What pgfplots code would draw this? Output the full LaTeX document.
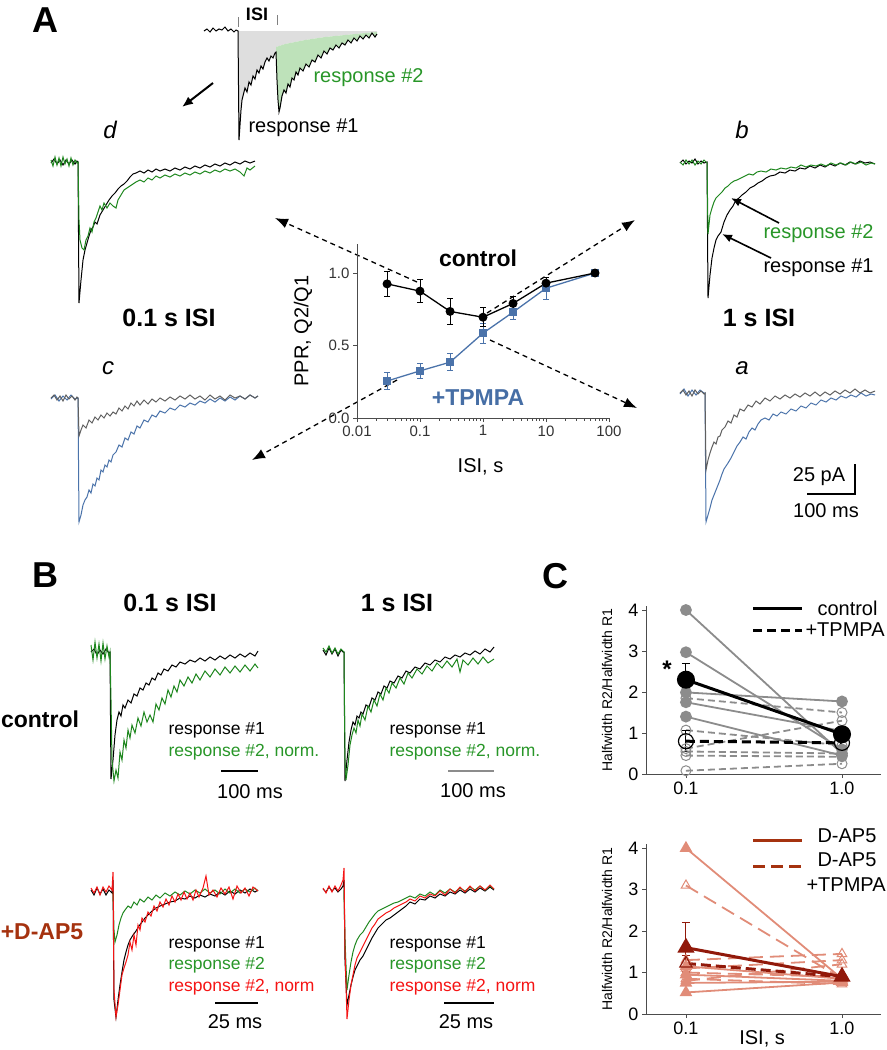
\documentclass[border=0pt]{standalone}
\usepackage{pgfplots}
\pgfplotsset{compat=1.18}
\usepackage{fontspec}
\setmainfont{Liberation Sans}
\usetikzlibrary{arrows.meta}
\newcommand{\fs}[1]{\fontsize{#1bp}{#1bp}\selectfont}
\definecolor{tgreen}{RGB}{30,135,30}
\definecolor{lgreen}{RGB}{40,150,40}
\definecolor{tblue}{RGB}{75,115,170}
\definecolor{tpblue}{RGB}{70,110,165}
\definecolor{tgray}{RGB}{95,95,95}
\definecolor{cgray}{RGB}{140,140,140}
\definecolor{salmon}{RGB}{225,140,120}
\definecolor{dbrown}{RGB}{145,25,10}
\definecolor{dap}{RGB}{165,50,15}
\definecolor{fillgray}{RGB}{222,222,222}
\definecolor{fillgreen}{RGB}{190,226,186}
\definecolor{tred}{RGB}{245,20,20}
\begin{document}
\begin{tikzpicture}
\path[use as bounding box] (0,0) rectangle (887bp,-1050bp);
% ---------------- overlay axis in pixel units (traces + annotations)
\begin{axis}[at={(0,0)}, anchor=north west, scale only axis, width=887bp, height=1050bp,
  xmin=0, xmax=887, ymin=0, ymax=1050, y dir=reverse, hide axis, clip=false, no markers]
% top example trace with areas
\addplot[fill=fillgray, draw=none] coordinates {(238,31)(239,140)(240,125)(241,110)(242,100)(243,96)(245,88)(247,92)(249,82)(251,85)(253,76)(255,79)(257,70)(259,73)(261,66)(263,69)(265,62)(267,58)(269,61)(271,56)(273,58)(275,53)(276,52)(276,47)(285,44)(295,42)(305,40)(315,38.5)(325,37)(340,35.5)(355,34)(365,33)(377,32)(377,31)} -- cycle;
\addplot[fill=fillgreen, draw=none] coordinates {(276,47)(285,44)(295,42)(305,40)(315,38.5)(325,37)(340,35.5)(355,34)(365,33)(377,32)(377,34)(375,37)(372,33)(369,38)(366,35)(363,39)(360,36)(357,41)(354,38)(351,43)(348,40)(345,45)(342,43)(339,48)(336,45)(333,50)(330,48)(327,54)(324,51)(321,58)(318,55)(315,62)(312,60)(309,67)(306,64)(303,71)(300,68)(298,75)(296,72)(294,80)(292,78)(290,87)(288,84)(286,93)(284,90)(282,96)(280,108)(279,112)(278,100)(277,80)(276,52)} -- cycle;
\addplot[black, line width=1bp] coordinates {(204,31)(207,29)(210,32)(213,28)(216,31)(219,29)(222,30)(225,27)(228,31)(231,29)(234,32)(236,30)(238,31)(239,140)(240,125)(241,110)(242,100)(243,96)(245,88)(247,92)(249,82)(251,85)(253,76)(255,79)(257,70)(259,73)(261,66)(263,69)(265,62)(267,58)(269,61)(271,56)(273,58)(275,53)(276,52)(277,80)(278,100)(279,112)(280,108)(282,96)(284,90)(286,93)(288,84)(290,87)(292,78)(294,80)(296,72)(298,75)(300,68)(303,71)(306,64)(309,67)(312,60)(315,62)(318,55)(321,58)(324,51)(327,54)(330,48)(333,50)(336,45)(339,48)(342,43)(345,45)(348,40)(351,43)(354,38)(357,41)(360,36)(363,39)(366,35)(369,38)(372,33)(375,37)(377,34)};
% d : 0.1 s ISI control
\addplot[black, line width=1bp] coordinates {(51,163)(54,159)(57,164)(60,160)(63,165)(66,160)(69,164)(72,160)(75,164)(77,161)(78,162)(79,303)(81,280)(83,260)(85,250)(87,243)(89,236)(91,230)(93,227)(95,222)(97,224)(100,215)(103,210)(106,205)(109,200)(112,196)(115,193)(118,189)(121,186)(124,184)(127,181)(130,177)(133,174)(136,173)(140,171)(144,173)(148,170)(152,172)(156,169)(160,171)(165,169)(170,171)(175,168)(180,170)(185,167)(190,169)(195,166)(200,168)(205,165)(210,167)(215,164)(220,166)(225,163)(230,165)(235,162)(240,164)(245,161)(250,163)(255,161)};
\addplot[tgreen, line width=1bp] coordinates {(51,160)(53,166)(55,157)(57,165)(59,158)(61,166)(63,157)(65,164)(67,159)(69,166)(71,158)(73,165)(75,160)(77,163)(78,162)(79,220)(80,240)(82,248)(84,250)(86,240)(88,236)(90,228)(92,232)(94,222)(96,218)(98,212)(100,206)(102,210)(104,203)(107,208)(110,203)(113,206)(116,208)(118,200)(121,195)(124,190)(127,188)(130,186)(133,184)(136,182)(140,180)(144,182)(148,178)(152,180)(156,176)(160,178)(165,175)(170,177)(175,174)(180,176)(185,173)(190,175)(195,172)(200,174)(205,171)(210,173)(215,170)(220,172)(225,169)(230,171)(235,169)(240,172)(244,176)(247,168)(250,170)(255,166)};
% b : 1 s ISI control
\addplot[black, line width=1bp] coordinates {(680,163)(683,160)(686,164)(689,161)(692,163)(695,159)(698,164)(701,161)(704,163)(707,162)(708,298)(710,275)(712,258)(714,248)(716,240)(718,236)(721,232)(724,222)(727,215)(730,210)(733,206)(736,200)(739,198)(742,195)(746,192)(750,188)(754,186)(758,183)(762,181)(766,178)(770,176)(775,175)(780,172)(785,173)(790,170)(795,171)(800,168)(805,169)(810,166)(815,168)(820,165)(825,167)(830,164)(835,166)(840,163)(845,165)(850,162)(855,164)(860,161)(865,163)(870,162)(875,164)};
\addplot[tgreen, line width=1bp] coordinates {(680,162)(683,165)(686,160)(689,164)(692,160)(695,165)(698,161)(701,164)(704,160)(707,163)(708,234)(710,215)(712,208)(714,202)(716,198)(719,195)(722,192)(725,188)(728,186)(731,183)(734,181)(737,180)(741,178)(745,176)(749,174)(753,175)(757,172)(761,171)(766,172)(771,169)(776,170)(781,168)(786,169)(791,167)(796,168)(801,165)(806,167)(811,165)(816,166)(821,164)(826,166)(831,163)(836,165)(841,163)(846,165)(851,162)(856,164)(861,162)(866,165)(871,163)(875,164)};
% c : 0.1 s ISI TPMPA
\addplot[tblue, line width=1bp] coordinates {(51,399)(55,395)(59,401)(63,396)(67,400)(71,395)(75,399)(78,398)(79,522)(81,515)(83,505)(85,500)(87,497)(89,490)(91,493)(93,484)(95,486)(97,478)(99,480)(101,470)(103,472)(105,465)(107,467)(109,460)(111,462)(113,455)(116,452)(119,445)(122,447)(125,438)(128,440)(131,432)(134,434)(137,426)(140,428)(144,420)(148,422)(152,415)(156,417)(160,411)(165,413)(170,408)(175,410)(180,405)(185,407)(190,403)(195,405)(200,401)(205,403)(210,399)(215,402)(220,398)(225,401)(230,397)(235,400)(240,396)(245,399)(250,395)(255,398)(258,396)};
\addplot[tgray, line width=1bp] coordinates {(51,398)(54,395)(57,400)(60,396)(63,401)(66,395)(69,399)(72,396)(75,400)(77,397)(78,398)(79,436)(81,430)(83,425)(86,428)(89,420)(92,423)(95,417)(98,420)(101,415)(104,418)(107,413)(110,416)(113,412)(116,414)(119,408)(122,411)(125,406)(128,409)(131,403)(134,406)(137,401)(140,405)(144,400)(148,404)(152,399)(156,402)(160,398)(165,401)(170,397)(175,400)(180,396)(185,399)(190,395)(195,399)(200,396)(205,400)(210,395)(215,399)(220,396)(225,400)(230,395)(235,398)(240,396)(245,399)(250,395)(255,398)(258,396)};
% a : 1 s ISI TPMPA
\addplot[tblue, line width=1bp] coordinates {(680,394)(684,389)(688,396)(692,390)(696,395)(700,390)(704,393)(705,393)(706,522)(708,515)(710,508)(712,500)(714,495)(716,490)(718,485)(720,480)(722,474)(724,469)(726,466)(728,463)(731,458)(734,452)(737,446)(740,442)(743,437)(746,439)(749,432)(752,428)(755,430)(758,424)(761,420)(765,418)(769,420)(773,414)(777,416)(781,412)(786,414)(791,409)(796,411)(801,406)(806,408)(811,403)(816,405)(821,400)(826,402)(831,398)(836,400)(841,396)(846,398)(851,395)(856,397)(861,393)(866,396)(871,394)(875,395)};
\addplot[tgray, line width=1bp] coordinates {(680,393)(683,390)(686,395)(689,391)(692,396)(695,390)(698,394)(701,391)(704,394)(705,393)(706,470)(708,460)(710,453)(712,447)(714,442)(716,444)(718,437)(720,436)(722,430)(725,427)(728,421)(731,423)(734,415)(737,417)(740,409)(744,411)(748,405)(752,407)(756,401)(760,404)(765,398)(770,401)(775,396)(780,399)(785,395)(790,398)(795,394)(800,397)(805,393)(810,396)(815,392)(820,396)(825,392)(830,395)(835,391)(840,394)(845,390)(850,393)(855,389)(860,393)(865,390)(870,393)(875,391)};
% B control 0.1 s
\addplot[black, line width=1bp] coordinates {(91,652)(94,649)(97,655)(100,650)(103,654)(106,649)(109,653)(110,652)(111,779)(113,760)(115,735)(117,720)(119,712)(121,716)(123,705)(125,708)(128,700)(131,703)(134,694)(137,696)(140,688)(143,690)(146,683)(149,685)(152,678)(155,680)(158,673)(161,675)(164,669)(168,671)(172,665)(176,667)(180,662)(185,664)(190,660)(195,662)(200,658)(205,661)(210,657)(215,660)(220,656)(225,659)(230,655)(235,658)(240,654)(245,657)(250,653)(255,656)(258,651)};
\addplot[tgreen, line width=1bp] coordinates {(91,645)(93,660)(95,642)(97,658)(99,644)(101,661)(103,643)(105,659)(107,646)(109,657)(110,652)(111,700)(112,760)(114,781)(116,770)(118,778)(120,752)(122,760)(124,740)(126,748)(128,730)(130,738)(132,725)(135,733)(138,718)(141,726)(144,712)(147,722)(150,715)(153,722)(156,704)(159,710)(162,698)(165,704)(168,690)(171,697)(174,686)(177,692)(180,680)(184,686)(188,677)(192,683)(196,674)(200,680)(205,671)(210,677)(215,669)(220,675)(225,667)(230,673)(235,666)(240,672)(245,665)(250,671)(255,664)(258,668)};
% B control 1 s
\addplot[black, line width=1bp] coordinates {(323,650)(326,655)(329,648)(332,654)(335,649)(338,656)(341,650)(343,652)(344,652)(345,781)(347,760)(349,742)(351,730)(353,722)(355,725)(357,716)(359,718)(361,712)(363,714)(366,705)(369,707)(372,698)(375,700)(378,692)(381,694)(384,686)(387,688)(390,681)(394,683)(398,676)(402,678)(406,671)(410,673)(415,667)(420,669)(425,663)(430,665)(435,660)(440,662)(445,657)(450,659)(455,655)(460,657)(465,653)(470,655)(475,651)(480,654)(485,649)(490,652)(494,647)};
\addplot[tgreen, line width=1bp] coordinates {(323,648)(326,652)(329,646)(332,653)(335,648)(338,654)(341,649)(343,651)(344,652)(345,760)(346,780)(348,765)(350,745)(352,735)(354,728)(356,733)(358,720)(360,726)(362,714)(365,720)(368,706)(371,712)(374,700)(377,706)(380,694)(383,700)(386,688)(389,693)(392,683)(396,688)(400,678)(404,684)(408,673)(412,678)(417,669)(422,674)(427,666)(432,671)(437,663)(442,668)(447,661)(452,667)(457,659)(460,672)(463,660)(468,665)(473,658)(478,664)(483,657)(488,663)(494,659)};
% B D-AP5 0.1 s
\addplot[black, line width=1bp] coordinates {(91,890)(94,895)(97,888)(100,894)(103,889)(106,895)(109,890)(112,893)(113,880)(114,1000)(116,1017)(118,1000)(120,985)(122,972)(124,960)(126,952)(128,945)(130,940)(133,935)(136,931)(139,926)(142,922)(145,918)(148,915)(152,911)(156,908)(160,906)(165,904)(170,902)(175,901)(180,898)(185,899)(190,896)(195,898)(200,895)(205,897)(210,894)(215,896)(220,892)(225,895)(230,891)(235,894)(240,890)(245,893)(250,889)(255,892)(258,890)};
\addplot[tgreen, line width=1bp] coordinates {(113,892)(114,930)(115,942)(117,935)(119,925)(121,918)(123,913)(125,910)(128,906)(131,908)(134,902)(137,905)(140,899)(144,902)(148,897)(152,900)(156,895)(160,898)(165,893)(170,896)(175,892)(180,895)(185,891)(190,894)(195,890)(200,893)(205,889)(210,893)(215,890)(220,894)(225,889)(230,893)(235,889)(240,893)(245,889)(250,892)(255,888)(258,891)};
\addplot[tred, line width=1bp] coordinates {(91,888)(94,893)(97,887)(100,895)(103,887)(106,892)(109,886)(112,890)(113,872)(114,990)(116,1017)(118,1005)(120,990)(122,975)(124,968)(126,962)(128,955)(130,942)(132,950)(134,935)(136,945)(138,925)(140,930)(142,918)(145,922)(148,912)(151,916)(154,906)(157,911)(160,902)(163,907)(166,899)(169,905)(172,896)(175,902)(178,894)(181,900)(184,892)(187,899)(190,893)(193,900)(196,890)(199,897)(203,888)(206,876)(209,895)(213,890)(217,897)(221,888)(225,894)(229,887)(233,899)(237,886)(241,893)(245,888)(249,896)(253,887)(258,891)};
% B D-AP5 1 s
\addplot[black, line width=1bp] coordinates {(323,889)(326,892)(329,887)(332,891)(335,888)(338,892)(341,889)(343,886)(344,880)(345,960)(347,1005)(349,995)(351,985)(353,977)(355,970)(357,966)(360,960)(363,956)(366,950)(369,944)(372,938)(375,933)(378,928)(382,924)(386,920)(390,918)(394,915)(398,912)(402,909)(406,906)(410,902)(415,904)(420,899)(425,900)(430,896)(435,898)(440,894)(445,896)(450,892)(455,894)(460,890)(465,893)(470,889)(475,892)(480,888)(485,891)(490,887)(494,890)};
\addplot[tgreen, line width=1bp] coordinates {(344,890)(345,940)(347,990)(349,975)(351,962)(353,952)(355,945)(357,940)(360,935)(363,932)(366,927)(369,922)(372,918)(375,914)(378,911)(382,909)(386,907)(390,905)(394,903)(398,902)(402,900)(406,898)(410,896)(415,898)(420,894)(425,896)(430,892)(435,895)(440,890)(445,893)(450,889)(455,892)(460,888)(465,891)(470,887)(475,890)(480,886)(485,890)(490,886)(494,889)};
\addplot[tred, line width=1bp] coordinates {(323,888)(326,893)(329,886)(332,892)(335,886)(338,891)(341,885)(343,880)(344,868)(345,950)(347,1019)(349,1000)(351,985)(353,975)(355,965)(357,958)(360,952)(363,946)(366,940)(369,934)(372,928)(375,924)(378,919)(382,916)(386,913)(390,911)(394,908)(398,906)(402,904)(406,902)(410,899)(415,901)(420,896)(425,898)(430,894)(435,896)(440,891)(445,895)(450,889)(455,893)(460,887)(465,892)(470,886)(475,891)(480,886)(485,890)(490,885)(494,889)};
% ---------- annotations panel A
\node[font=\fs{36}\bfseries] at (45,20) {A};
\draw[black!50, line width=0.8bp] (238,17)--(238,27) (277,15)--(277,25);
\node[font=\fs{18}\bfseries] at (257,14) {ISI};
\draw[black, line width=2bp, -{Latex[length=11bp,width=9bp]}] (213,83)--(182,107);
\node[font=\fs{20}, text=lgreen, anchor=west] at (310,78) {response \#2};
\node[font=\fs{20}, anchor=west] at (245,128) {response \#1};
\node[font=\fs{24}\itshape] at (110,130) {d};
\node[font=\fs{24}\itshape] at (742,130) {b};
\node[font=\fs{24}\itshape] at (108,368) {c};
\node[font=\fs{24}\itshape] at (742,368) {a};
\node[font=\fs{25}\bfseries] at (169,318) {0.1 s ISI};
\node[font=\fs{25}\bfseries] at (759,318) {1 s ISI};
\draw[black, line width=1.6bp, -{Latex[length=10bp,width=8bp]}] (779,223)--(731,198);
\draw[black, line width=1.6bp, -{Latex[length=10bp,width=8bp]}] (771,258)--(722,234);
\node[font=\fs{20}, text=lgreen, anchor=west] at (760,234) {response \#2};
\node[font=\fs{20}, anchor=west] at (760,268) {response \#1};
\node[font=\fs{23}\bfseries] at (478,258) {control};
\node[font=\fs{23}\bfseries, text=tpblue] at (478,398) {+TPMPA};
\draw[black, line width=1.3bp, dash pattern=on 5bp off 4bp, -{Latex[length=13bp,width=10bp]}] (417,282)--(275,218);
\draw[black, line width=1.3bp, dash pattern=on 5bp off 4bp, -{Latex[length=13bp,width=10bp]}] (487,313)--(635,220);
\draw[black, line width=1.3bp, dash pattern=on 5bp off 4bp, -{Latex[length=13bp,width=10bp]}] (490,340)--(637,408);
\draw[black, line width=1.3bp, dash pattern=on 5bp off 4bp, -{Latex[length=13bp,width=10bp]}] (397,380)--(252,460);
\draw[black, line width=1.6bp] (807,494)--(855,494)--(855,464);
\node[font=\fs{20}] at (819,477) {25 pA};
\node[font=\fs{20}] at (826,511) {100 ms};
% ---------- panel B annotations
\node[font=\fs{36}\bfseries] at (45,575) {B};
\node[font=\fs{36}\bfseries] at (555,576) {C};
\node[font=\fs{25}\bfseries] at (170,603) {0.1 s ISI};
\node[font=\fs{25}\bfseries] at (397,603) {1 s ISI};
\node[font=\fs{23}\bfseries] at (40,719) {control};
\node[font=\fs{23}\bfseries, text=dap] at (42,932) {+D-AP5};
\node[font=\fs{17.5}, anchor=west] at (165,730) {response \#1};
\node[font=\fs{17.5}, anchor=west, text=lgreen] at (165,752) {response \#2, norm.};
\draw[black, line width=1.6bp] (221,771)--(258,771);
\node[font=\fs{20}] at (250,792) {100 ms};
\node[font=\fs{17.5}, anchor=west] at (386,730) {response \#1};
\node[font=\fs{17.5}, anchor=west, text=lgreen] at (386,752) {response \#2, norm.};
\draw[black!45, line width=1.6bp] (448,771)--(494,771);
\node[font=\fs{20}] at (473,791) {100 ms};
\node[font=\fs{17.5}, anchor=west] at (165,944) {response \#1};
\node[font=\fs{17.5}, anchor=west, text=lgreen] at (165,965) {response \#2};
\node[font=\fs{17.5}, anchor=west, text=tred] at (165,987) {response \#2, norm};
\draw[black, line width=1.8bp] (215,1003)--(258,1003);
\node[font=\fs{20}] at (235,1022) {25 ms};
\node[font=\fs{17.5}, anchor=west] at (386,944) {response \#1};
\node[font=\fs{17.5}, anchor=west, text=lgreen] at (386,965) {response \#2};
\node[font=\fs{17.5}, anchor=west, text=tred] at (386,987) {response \#2, norm};
\draw[black, line width=1.8bp] (444,1003)--(494,1003);
\node[font=\fs{20}] at (466,1022) {25 ms};
% ---------- panel C legends
\draw[black, line width=3bp] (753,608)--(802,608);
\node[font=\fs{20}, anchor=west] at (814,608) {control};
\draw[black, line width=3bp, dash pattern=on 9bp off 5bp] (753,630)--(802,630);
\node[font=\fs{20}, anchor=west] at (802,630) {+TPMPA};
\node[font=\fs{24}\bfseries] at (667,669) {*};
\draw[dap, line width=3bp] (753,840)--(802,840);
\node[font=\fs{20}, anchor=west] at (814,836) {D-AP5};
\draw[dap, line width=3bp, dash pattern=on 12bp off 6bp] (753,866)--(802,866);
\node[font=\fs{20}, anchor=west] at (814,860) {D-AP5};
\node[font=\fs{20}, anchor=west] at (803,885) {+TPMPA};
\end{axis}
% ---------------- central PPR plot
\begin{axis}[at={(357bp,-418bp)}, anchor=south west, scale only axis, width=252bp, height=174bp,
  xmode=log, xmin=0.01, xmax=100, ymin=0, ymax=1.2,
  axis lines*=left, axis line style={black!70, line width=0.8bp},
  xtick={0.01,0.1,1,10,100}, xticklabels={0.01,0.1,1,10,100}, minor xtick={},
  ytick={0,0.5,1}, yticklabels={0.0,0.5,1.0},
  tick align=outside, major tick length=4bp, tick style={black!70, line width=0.8bp},
  ticklabel style={font=\fs{15}, text=black!80}, /pgf/number format/assume math mode=true,
  xlabel={ISI, s}, ylabel={PPR, Q2/Q1}, label style={font=\fs{20}},
  xlabel style={at={(axis description cs:0.49,-0.28)}, anchor=center},
  ylabel style={at={(axis description cs:-0.214,0.5)}, anchor=center},
  clip=false]
\addplot[tblue, line width=1.3bp, mark=square*, mark size=3.5bp,
  error bars/.cd, y dir=both, y explicit, error bar style={tblue, line width=1bp},
  error mark options={tblue, rotate=90, mark size=3bp, line width=1bp}]
  coordinates {(0.03,0.255) +- (0,0.06) (0.1,0.325) +- (0,0.05) (0.3,0.385) +- (0,0.06) (1,0.585) +- (0,0.07) (3,0.73) +- (0,0.05) (10,0.895) +- (0,0.075) (60,1.0) +- (0,0.01)};
\addplot[black, line width=1.3bp, mark=*, mark size=3.8bp,
  error bars/.cd, y dir=both, y explicit, error bar style={black, line width=1bp},
  error mark options={black, rotate=90, mark size=3bp, line width=1bp}]
  coordinates {(0.03,0.925) +- (0,0.085) (0.1,0.875) +- (0,0.08) (0.3,0.735) +- (0,0.09) (1,0.695) +- (0,0.065) (3,0.79) +- (0,0.05) (10,0.93) +- (0,0.04) (60,1.0) +- (0,0.01)};
\end{axis}
% ---------------- C top
\begin{axis}[at={(646bp,-774bp)}, anchor=south west, scale only axis, width=235bp, height=168.1bp,
  xmin=-0.256, xmax=1.25, ymin=0, ymax=4.1,
  axis lines*=left, axis line style={black!70, line width=0.8bp},
  xtick={0,1}, xticklabels={0.1,1.0}, ytick={0,1,2,3,4},
  tick align=outside, major tick length=4bp, tick style={black!70, line width=0.8bp},
  ticklabel style={font=\fs{18}}, /pgf/number format/assume math mode=true,
  ylabel={Halfwidth R2/Halfwidth R1}, ylabel style={font=\fs{14}, at={(axis description cs:-0.166,0.5)}, anchor=center},
  clip=false]
\pgfplotsset{dsh/.style={cgray, line width=1.8bp, dash pattern=on 7bp off 4bp, mark=o, mark size=5bp, mark options={solid, fill=white, line width=1bp}},
  sld/.style={cgray, line width=1.8bp, mark=*, mark size=5bp}}
\addplot[dsh] coordinates {(0,1.85) (1,1.5)};
\addplot[dsh] coordinates {(0,1.07) (1,0.7)};
\addplot[dsh] coordinates {(0,0.62) (1,1.3)};
\addplot[dsh] coordinates {(0,0.55) (1,0.5)};
\addplot[dsh] coordinates {(0,0.45) (1,0.42)};
\addplot[dsh] coordinates {(0,0.08) (1,0.25)};
\addplot[sld] coordinates {(0,4.0) (1,0.5)};
\addplot[sld] coordinates {(0,2.97) (1,0.6)};
\addplot[sld] coordinates {(0,1.99) (1,1.77)};
\addplot[sld] coordinates {(0,1.75) (1,1.05)};
\addplot[sld] coordinates {(0,1.4) (1,0.45)};
\addplot[black, line width=3bp, dash pattern=on 9bp off 5bp, mark=o, mark size=7.5bp, mark options={solid, fill=white, line width=1.2bp},
  error bars/.cd, y dir=both, y explicit, error bar style={black, line width=1bp, solid},
  error mark options={black, rotate=90, mark size=4bp, line width=1bp}]
  coordinates {(0,0.8) +- (0,0.25) (1,0.76) +- (0,0.12)};
\addplot[black, line width=3bp, mark=*, mark size=7.5bp,
  error bars/.cd, y dir=both, y explicit, error bar style={black, line width=1bp},
  error mark options={black, rotate=90, mark size=4bp, line width=1bp}]
  coordinates {(0,2.3) +- (0,0.4) (1,0.97) +- (0,0.13)};
\end{axis}
% ---------------- C bottom
\begin{axis}[at={(646bp,-1014bp)}, anchor=south west, scale only axis, width=235bp, height=170bp,
  xmin=-0.256, xmax=1.25, ymin=0, ymax=4.1,
  axis lines*=left, axis line style={black!70, line width=0.8bp},
  xtick={0,1}, xticklabels={0.1,1.0}, ytick={0,1,2,3,4},
  tick align=outside, major tick length=4bp, tick style={black!70, line width=0.8bp},
  ticklabel style={font=\fs{18}}, /pgf/number format/assume math mode=true,
  xlabel={ISI, s}, xlabel style={font=\fs{20}, at={(axis description cs:0.494,-0.147)}, anchor=center},
  ylabel={Halfwidth R2/Halfwidth R1}, ylabel style={font=\fs{14}, at={(axis description cs:-0.166,0.5)}, anchor=center},
  clip=false]
\pgfplotsset{tdsh/.style={salmon, line width=1.8bp, dash pattern=on 14bp off 7bp, mark=triangle, mark size=5.5bp, mark options={solid, fill=white, line width=1bp}},
  tsld/.style={salmon, line width=1.8bp, mark=triangle*, mark size=5.5bp}}
\addplot[tdsh] coordinates {(0,3.1) (1,0.85)};
\addplot[tdsh] coordinates {(0,1.3) (1,1.45)};
\addplot[tdsh] coordinates {(0,1.1) (1,1.3)};
\addplot[tdsh] coordinates {(0,1.0) (1,0.9)};
\addplot[tdsh] coordinates {(0,0.85) (1,0.72)};
\addplot[tdsh] coordinates {(0,0.8) (1,1.2)};
\addplot[tsld] coordinates {(0,4.0) (1,0.85)};
\addplot[tsld] coordinates {(0,1.15) (1,0.85)};
\addplot[tsld] coordinates {(0,0.95) (1,0.8)};
\addplot[tsld] coordinates {(0,0.75) (1,0.78)};
\addplot[tsld] coordinates {(0,0.52) (1,0.76)};
\addplot[dbrown, line width=3bp, dash pattern=on 10bp off 5bp, mark=triangle, mark size=7bp, mark options={solid, fill=white, line width=1.2bp},
  error bars/.cd, y dir=both, y explicit, error bar style={dbrown, line width=1bp, solid},
  error mark options={dbrown, rotate=90, mark size=4bp, line width=1bp}]
  coordinates {(0,1.22) +- (0,0.2) (1,0.9) +- (0,0.08)};
\addplot[dbrown, line width=3bp, mark=triangle*, mark size=7bp,
  error bars/.cd, y dir=both, y explicit, error bar style={dbrown, line width=1bp},
  error mark options={dbrown, rotate=90, mark size=4bp, line width=1bp}]
  coordinates {(0,1.6) +- (0,0.6) (1,0.9) +- (0,0.08)};
\end{axis}
\end{tikzpicture}
\end{document}
